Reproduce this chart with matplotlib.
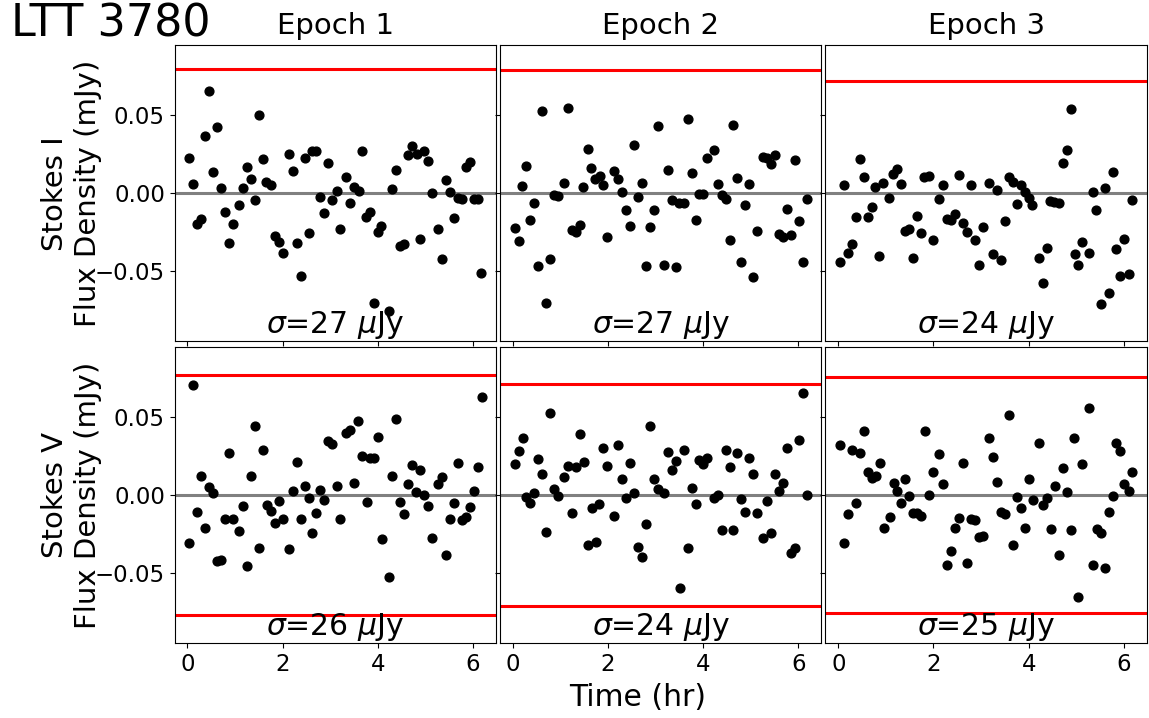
import matplotlib
matplotlib.use("Agg")
import matplotlib.pyplot as plt

# ---------------- data ----------------
epochs = ["Epoch 1", "Epoch 2", "Epoch 3"]
row_labels = ["Stokes I\nFlux Density (mJy)", "Stokes V\nFlux Density (mJy)"]

t_I1 = [0.035,0.119,0.203,0.293,0.370,0.454,0.538,0.622,0.706,0.790,0.874,0.957,1.083,1.167,1.251,1.342,1.426,1.495,1.586,1.656,1.761,1.831,1.922,2.006,2.124,2.208,2.292,2.376,2.460,2.544,2.621,2.704,2.788,2.872,2.956,3.040,3.145,3.208,
        3.333,3.417,3.494,3.599,3.669,3.753,3.837,3.913,4.004,4.074,4.228,4.298,4.382,4.466,4.556,4.633,4.717,4.815,4.885,4.976,5.053,5.136,5.262,5.353,5.430,5.514,5.605,5.675,5.765,5.849,5.933,6.010,6.094,6.177]
I1 = [0.0227,0.0058,-0.0195,-0.0167,0.0368,0.0657,0.0137,0.0424,0.0034,-0.0118,-0.0321,-0.0197,-0.0075,0.0034,0.0171,0.0092,-0.0041,0.0503,0.0221,0.0075,0.0051,-0.0274,-0.0313,-0.0385,0.0255,0.0146,-0.0317,-0.0529,0.0225,-0.0253,0.0270,0.0270,-0.0024,-0.0124,0.0193,-0.0041,0.0017,-0.0231,
      0.0103,-0.0060,0.0043,0.0015,0.0274,-0.0152,-0.0118,-0.0702,-0.0250,-0.0210,-0.0756,0.0026,0.0150,-0.0340,-0.0325,0.0246,0.0304,0.0255,-0.0295,0.0270,0.0210,0.0004,-0.0227,-0.0424,0.0083,0.0006,-0.0156,-0.0030,-0.0039,0.0167,0.0203,-0.0039,-0.0034,-0.0510]

t_I2 = [0.035,0.119,0.196,0.280,0.363,0.447,0.524,0.615,0.699,0.783,0.860,0.943,1.076,1.160,1.244,1.328,1.405,1.481,1.572,1.649,1.733,1.824,1.901,1.985,2.124,2.208,2.292,2.376,2.460,2.544,2.621,2.704,2.788,2.872,2.956,3.040,
        3.180,3.250,3.333,3.417,3.494,3.585,3.669,3.760,3.837,3.920,4.004,4.088,4.228,4.305,4.389,4.473,4.563,4.633,4.717,4.801,4.885,4.969,5.045,5.136,5.262,5.346,5.430,5.514,5.597,5.681,5.765,5.849,5.933,6.017,6.101,6.184]
I2 = [-0.0223,-0.0306,0.0047,0.0178,-0.0173,-0.0064,-0.0469,0.0531,-0.0706,-0.0422,-0.0009,-0.0015,0.0069,0.0546,-0.0238,-0.0246,-0.0201,0.0041,0.0285,0.0161,0.0090,0.0111,0.0051,-0.0278,0.0146,0.0094,0.0011,-0.0107,-0.0212,0.0308,-0.0021,0.0064,-0.0469,-0.0218,-0.0109,0.0432,
      -0.0462,0.0148,-0.0041,-0.0475,-0.0060,-0.0060,0.0477,0.0131,-0.0171,-0.0002,-0.0004,0.0225,0.0278,0.0058,-0.0009,-0.0039,-0.0302,0.0439,0.0098,-0.0441,-0.0075,0.0062,-0.0535,-0.0240,0.0231,0.0225,0.0191,0.0244,-0.0259,-0.0283,-0.0103,-0.0265,0.0216,-0.0180,-0.0443,-0.0034]

t_I3 = [0.035,0.119,0.203,0.287,0.370,0.447,0.531,0.615,0.699,0.776,0.860,0.943,1.069,1.153,1.230,1.321,1.398,1.488,1.572,1.656,1.740,1.810,1.901,1.992,2.124,2.201,2.278,2.362,2.453,2.537,2.621,2.704,2.781,2.865,2.956,3.040,
        3.166,3.249,3.340,3.424,3.501,3.585,3.669,3.753,3.837,3.920,4.004,4.074,4.214,4.305,4.389,4.445,4.528,4.633,4.717,4.801,4.885,4.969,5.038,5.129,5.262,5.346,5.423,5.514,5.597,5.688,5.765,5.842,5.926,6.010,6.101,6.178]
I3 = [-0.0439,0.0054,-0.0383,-0.0323,-0.0150,0.0223,0.0105,-0.0150,-0.0088,0.0043,-0.0405,0.0064,-0.0032,0.0122,0.0154,0.0062,-0.0240,-0.0229,-0.0415,-0.0148,-0.0255,0.0103,0.0113,-0.0298,-0.0036,0.0056,-0.0167,-0.0169,-0.0133,0.0118,-0.0193,-0.0248,0.0051,-0.0300,-0.0462,-0.0214,
      0.0069,-0.0387,0.0021,-0.0430,-0.0176,0.0107,0.0075,-0.0069,0.0056,0.0009,-0.0028,-0.0077,-0.0413,-0.0574,-0.0349,-0.0049,-0.0056,-0.0062,0.0197,0.0278,0.0540,-0.0392,-0.0458,-0.0310,-0.0385,0.0011,-0.0107,-0.0709,0.0034,-0.0636,0.0139,-0.0358,-0.0527,-0.0291,-0.0520,-0.0045]

t_V1 = [0.042,0.119,0.210,0.287,0.370,0.454,0.538,0.622,0.706,0.790,0.874,0.957,1.083,1.167,1.251,1.335,1.419,1.502,1.586,1.670,1.754,1.838,1.922,2.006,2.124,2.208,2.292,2.376,2.460,2.544,2.621,2.704,2.788,2.872,2.956,3.040,3.145,3.208,
        3.333,3.417,3.501,3.592,3.669,3.767,3.837,3.920,4.011,4.088,4.228,4.305,4.389,4.473,4.556,4.640,4.717,4.801,4.885,4.976,5.053,5.136,5.262,5.353,5.430,5.521,5.605,5.681,5.765,5.849,5.940,6.017,6.101,6.185]
V1 = [-0.0306,0.0706,-0.0109,0.0126,-0.0208,0.0054,0.0013,-0.0424,-0.0415,-0.0150,0.0270,-0.0150,-0.0231,-0.0071,-0.0454,0.0126,0.0441,-0.0340,0.0289,-0.0064,-0.0101,-0.0178,-0.0036,-0.0150,-0.0343,0.0026,0.0216,-0.0150,0.0058,-0.0021,-0.0242,-0.0116,0.0036,-0.0028,0.0347,0.0328,0.0060,-0.0150,
      0.0400,0.0417,0.0079,0.0477,0.0250,-0.0045,0.0240,0.0238,0.0375,-0.0280,-0.0522,0.0126,0.0490,-0.0043,-0.0120,0.0069,0.0195,0.0021,0.0163,0.0004,-0.0071,-0.0274,0.0069,0.0118,-0.0381,-0.0152,-0.0049,0.0206,-0.0161,-0.0139,-0.0075,0.0026,0.0178,0.0627]

t_V2 = [0.035,0.119,0.203,0.280,0.363,0.447,0.524,0.615,0.699,0.783,0.860,0.943,1.076,1.153,1.237,1.321,1.405,1.488,1.572,1.656,1.740,1.817,1.901,1.985,2.124,2.208,2.292,2.376,2.453,2.537,2.621,2.704,2.788,2.872,2.956,3.040,
        3.180,3.250,3.333,3.417,3.501,3.585,3.669,3.753,3.837,3.920,4.004,4.088,4.228,4.312,4.389,4.473,4.556,4.633,4.717,4.801,4.885,4.969,5.045,5.136,5.262,5.346,5.430,5.514,5.597,5.681,5.765,5.849,5.933,6.017,6.101,6.185]
V2 = [0.0199,0.0285,0.0368,-0.0011,-0.0047,0.0017,0.0231,0.0135,-0.0233,0.0529,0.0039,-0.0004,0.0118,0.0188,-0.0116,0.0182,0.0390,0.0210,-0.0319,-0.0081,-0.0300,-0.0054,0.0306,0.0188,-0.0133,0.0319,0.0103,-0.0015,0.0208,0.0011,-0.0332,-0.0396,-0.0184,0.0441,0.0107,0.0041,
      0.0015,0.0276,0.0163,0.0221,-0.0597,0.0287,-0.0340,0.0045,-0.0056,0.0229,0.0203,0.0238,-0.0019,0.0000,-0.0225,0.0287,0.0178,-0.0223,0.0268,-0.0024,-0.0109,0.0238,0.0139,-0.0113,-0.0272,-0.0036,-0.0242,0.0137,0.0028,0.0079,0.0306,-0.0368,-0.0338,0.0355,0.0653,0.0004]

t_V3 = [0.035,0.119,0.203,0.287,0.370,0.454,0.531,0.615,0.699,0.783,0.867,0.950,1.076,1.160,1.237,1.321,1.405,1.488,1.572,1.656,1.740,1.817,1.908,1.985,2.124,2.208,2.285,2.369,2.453,2.537,2.621,2.704,2.781,2.865,2.956,3.040,
        3.166,3.249,3.333,3.417,3.501,3.585,3.669,3.753,3.837,3.920,4.004,4.088,4.214,4.298,4.382,4.466,4.549,4.633,4.717,4.801,4.885,4.962,5.045,5.129,5.262,5.346,5.430,5.514,5.597,5.681,5.765,5.842,5.926,6.010,6.101,6.178]
V3 = [0.0319,-0.0306,-0.0120,0.0291,-0.0047,0.0268,0.0409,0.0146,0.0113,0.0126,0.0208,-0.0208,-0.0139,0.0077,0.0024,-0.0047,0.0107,-0.0006,-0.0116,-0.0116,-0.0135,0.0409,0.0004,0.0146,0.0265,0.0071,-0.0450,-0.0360,-0.0208,-0.0143,0.0208,-0.0435,-0.0152,-0.0161,-0.0270,-0.0259,
      0.0364,0.0248,0.0086,-0.0107,-0.0120,0.0512,-0.0321,-0.0009,-0.0083,-0.0210,0.0101,-0.0032,0.0332,-0.0062,-0.0021,-0.0216,0.0060,-0.0381,0.0176,0.0021,-0.0225,0.0366,-0.0651,0.0203,0.0561,-0.0450,-0.0218,-0.0242,-0.0469,-0.0105,-0.0002,0.0338,0.0283,0.0073,0.0026,0.0148]

sigma_I = [27, 27, 24]          # uJy
sigma_V = [26, 24, 25]          # uJy
thresh_I = [0.0797, 0.0793, 0.0720]   # mJy (upper only)
thresh_V = [0.0771, 0.0713, 0.0755]   # mJy (+/-)

times = [[t_I1, t_I2, t_I3], [t_V1, t_V2, t_V3]]
fluxes = [[I1, I2, I3], [V1, V2, V3]]
sigmas = [sigma_I, sigma_V]

yticks = [-0.05, 0.0, 0.05]
xticks = [0, 2, 4, 6]

# ---------------- plot ----------------
fig, axes = plt.subplots(2, 3, sharex=True, sharey=True, figsize=(11.49, 7.18), dpi=100)
fig.subplots_adjust(left=0.152, right=0.998, top=0.937, bottom=0.104,
                    wspace=0.013, hspace=0.019)

for r in range(2):
    for c in range(3):
        ax = axes[r, c]
        ax.axhline(0, color="gray", lw=2.2, zorder=1)
        if r == 0:
            ax.axhline(thresh_I[c], color="red", lw=2.2, zorder=1)
        else:
            ax.axhline(thresh_V[c], color="red", lw=2.2, zorder=1)
            ax.axhline(-thresh_V[c], color="red", lw=2.2, zorder=1)
        ax.scatter(times[r][c], fluxes[r][c], s=40, color="black", zorder=3)
        ax.text(0.5, 0.002, r"$\sigma$=%d $\mu$Jy" % sigmas[r][c],
                transform=ax.transAxes, ha="center", va="bottom", fontsize=21.5)
        ax.tick_params(labelsize=16.5)
        if r == 0:
            ax.set_title(epochs[c], fontsize=21, pad=8)
        if c == 0:
            ax.set_ylabel(row_labels[r], fontsize=21, labelpad=-5)

axes[0, 0].set_ylim(-0.095, 0.095)
axes[0, 0].set_xlim(-0.27, 6.48)
axes[0, 0].set_yticks(yticks)
axes[0, 0].set_xticks(xticks)

fig.text(0.555, 0.028, "Time (hr)", ha="center", va="center", fontsize=21.5)
fig.text(0.01, 0.967, "LTT 3780", ha="left", va="center", fontsize=32)

fig.savefig("out.png", dpi=100)
